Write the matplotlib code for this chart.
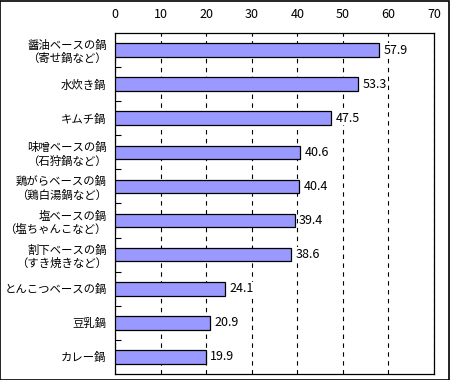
import matplotlib
matplotlib.use("Agg")
import matplotlib.pyplot as plt

plt.rcParams['font.family'] = ['Noto Sans CJK JP', 'DejaVu Sans']

# data (top to bottom)
categories = [
    "醤油ベースの鍋\n（寄せ鍋など）",
    "水炊き鍋",
    "キムチ鍋",
    "味噌ベースの鍋\n（石狩鍋など）",
    "鶏がらベースの鍋\n（鶏白湯鍋など）",
    "塩ベースの鍋\n（塩ちゃんこなど）",
    "割下ベースの鍋\n（すき焼きなど）",
    "とんこつベースの鍋",
    "豆乳鍋",
    "カレー鍋",
]
values = [57.9, 53.3, 47.5, 40.6, 40.4, 39.4, 38.6, 24.1, 20.9, 19.9]
xticks = [0, 10, 20, 30, 40, 50, 60, 70]

fig = plt.figure(figsize=(4.5, 3.8), dpi=100)
ax = fig.add_axes([115 / 450, 1 - 374 / 380, 319 / 450, 341 / 380])

# outer border of the picture
fig.add_artist(plt.Rectangle((0.001, 0.001), 0.997, 0.996, transform=fig.transFigure,
                             fill=False, edgecolor='black', linewidth=1.2))

n = len(categories)
pos = list(range(n))
ax.barh(pos, values, height=0.4, color='#9999FF', edgecolor='black', linewidth=0.9, zorder=3)
for p, v in zip(pos, values):
    ax.text(v + 1.0, p, f"{v:.1f}", va='center', ha='left', fontsize=9, zorder=4,
            bbox=dict(facecolor='white', edgecolor='none', pad=0.5))

ax.set_xlim(0, 70)
ax.set_ylim(n - 0.5, -0.5)
ax.set_xticks(xticks)
ax.xaxis.tick_top()
ax.tick_params(axis='x', length=0, pad=9, labelsize=9)

# category labels without tick marks, tick marks at boundaries
ax.set_yticks(pos)
ax.set_yticklabels(categories, fontsize=8.2, linespacing=1.25)
ax.tick_params(axis='y', which='major', length=0, pad=6)
ax.set_yticks([p + 0.5 for p in pos[:-1]], minor=True)
ax.tick_params(axis='y', which='minor', direction='in', length=4, width=0.8)

ax.grid(axis='x', color='black', linestyle=(0, (4, 4)), linewidth=0.8, zorder=1)
for s in ax.spines.values():
    s.set_linewidth(0.9)

fig.savefig("out.png", dpi=100)
